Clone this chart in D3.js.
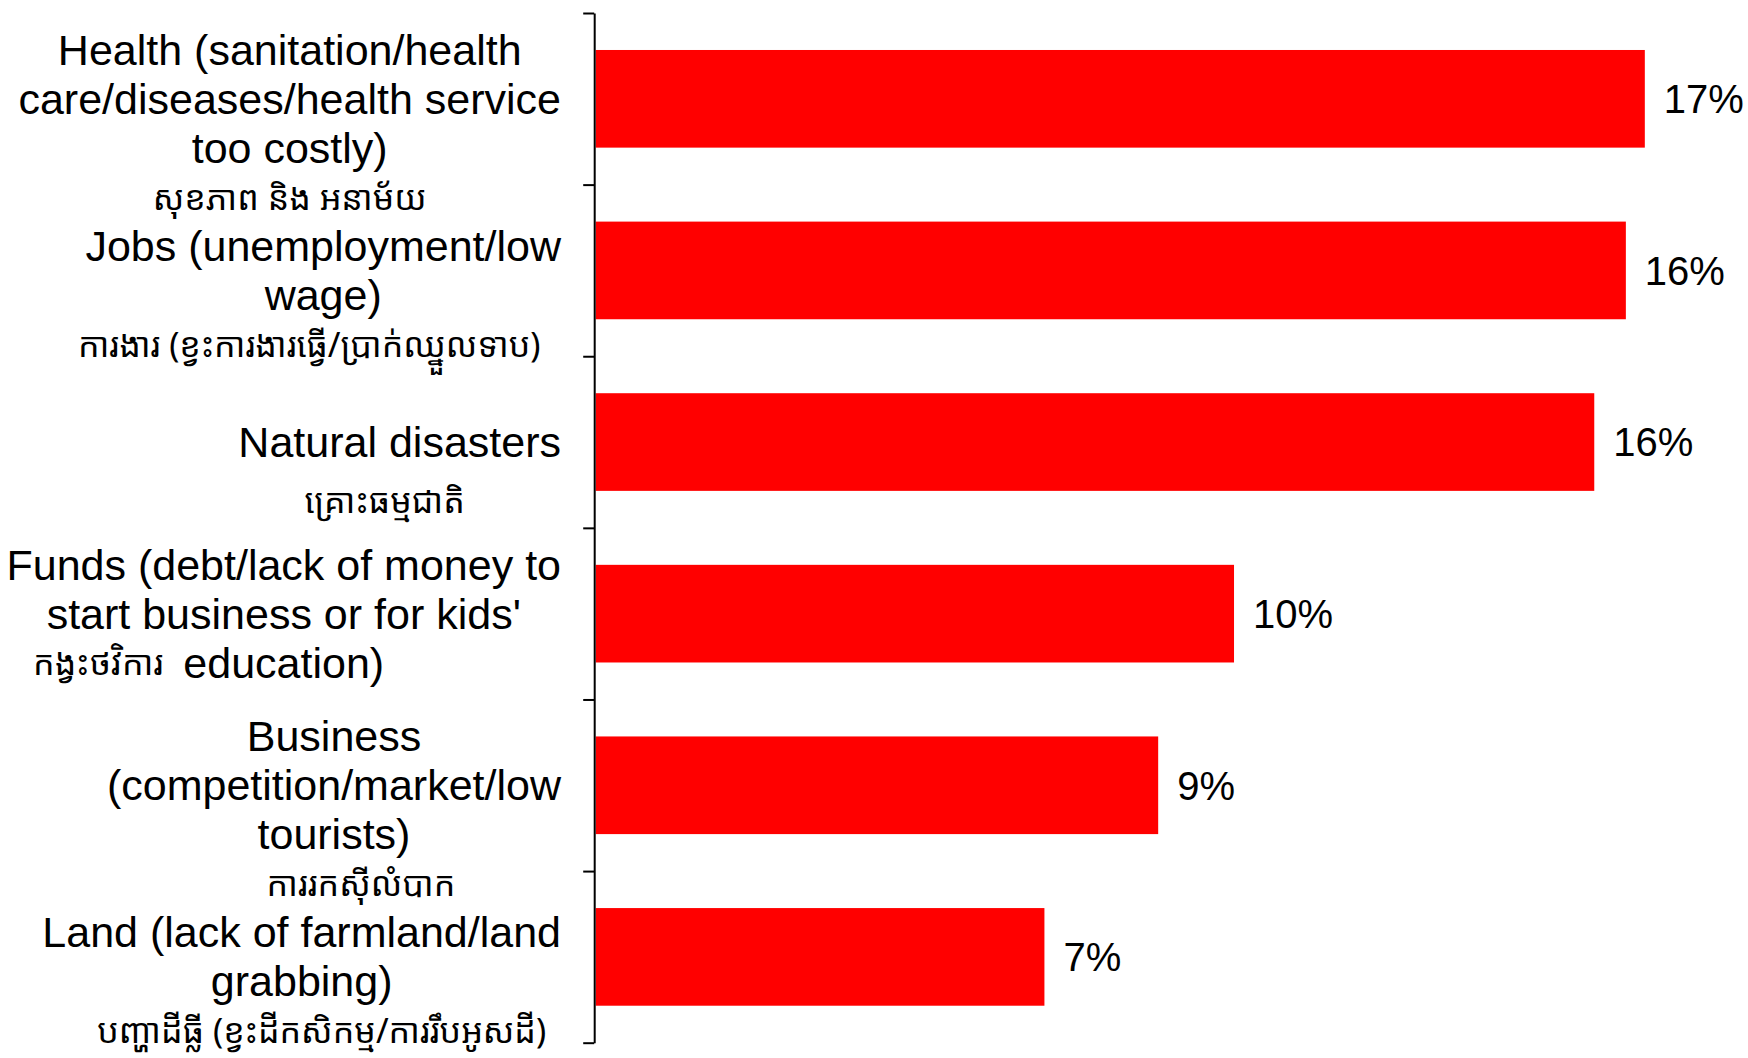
<!DOCTYPE html>
<html>
<head>
<meta charset="utf-8">
<script src="https://cdn.jsdelivr.net/npm/d3@7"></script>
<style>
  html, body { margin: 0; padding: 0; background: #ffffff; }
  svg { display: block; }
  .en { font-family: "Liberation Sans", Arial, sans-serif; font-size: 43px; fill: #000; }
  .km { font-family: "Khmer OS", "Khmer OS System", "Noto Sans Khmer", "Noto Serif Khmer", "Liberation Sans", sans-serif; font-size: 34px; fill: #000; }
  .val { font-family: "Liberation Sans", Arial, sans-serif; font-size: 40px; fill: #000; }
</style>
</head>
<body>
<svg id="chart" width="1748" height="1058"></svg>
<script>
// ---- data ----
const categories = ["Health", "Jobs", "Natural disasters", "Funds", "Business", "Land"];
const labelLinesEn = [
  ["Health (sanitation/health", "care/diseases/health service", "too costly)"],
  ["Jobs (unemployment/low", "wage)"],
  ["Natural disasters"],
  ["Funds (debt/lack of money to", "start business or for kids'", "education)"],
  ["Business", "(competition/market/low", "tourists)"],
  ["Land (lack of farmland/land", "grabbing)"]
];
const labelsKm = [
  "សុខភាព និង អនាម័យ",
  "ការងារ (ខ្វះការងារធ្វើ/ប្រាក់ឈ្នួលទាប)",
  "គ្រោះធម្មជាតិ",
  "កង្វះថវិការ",
  "ការរកស៊ីលំបាក",
  "បញ្ហាដីធ្លី (ខ្វះដីកសិកម្ម/ការរឹបអូសដី)"
];
const values = [16.6, 16.3, 15.8, 10.1, 8.9, 7.1];
const xMax = 18;

// ---- layout ----
const svg = d3.select("#chart");
const plotLeft = 595.7, plotTop = 13, plotBottom = 1042.7;
const unitPx = 63.2;
const lineH = 49;
const labelRight = 561;
const khmerInlineIdx = 3;              // Khmer label sits left of the last English line
const kmShiftX = [0, -14, -15, 0, 27, 20]; // horizontal nudges of the Khmer lines

const x = d3.scaleLinear().domain([0, xMax]).range([plotLeft, plotLeft + xMax * unitPx]);
const y = d3.scaleBand().domain(categories).range([plotTop, plotBottom])
  .paddingInner(0.431).paddingOuter(0.2155);
const yTicks = d3.scaleLinear().domain([0, categories.length]).range([plotTop, plotBottom]);

// bars
svg.append("g").selectAll("rect").data(values).join("rect")
  .attr("x", x(0))
  .attr("y", (d, i) => y(categories[i]))
  .attr("width", d => x(d) - x(0))
  .attr("height", y.bandwidth())
  .attr("fill", "#ff0000");

// value labels
svg.append("g").selectAll("text").data(values).join("text")
  .attr("class", "val")
  .attr("x", d => x(d) + 19)
  .attr("y", (d, i) => y(categories[i]) + y.bandwidth() / 2)
  .attr("dy", "0.36em")
  .text(d => Math.round(d) + "%");

// axis
const axis = d3.axisLeft(yTicks).tickValues(d3.range(categories.length + 1))
  .tickFormat("").tickSizeInner(11).tickSizeOuter(0);
const ag = svg.append("g").attr("transform", `translate(${x(0) - 1.5},0)`).call(axis);
ag.select(".domain").attr("stroke", "#000").attr("stroke-width", 2);
ag.selectAll(".tick line").attr("stroke", "#000").attr("stroke-width", 2);

// category labels
const lg = svg.append("g");
categories.forEach((c, i) => {
  const lines = labelLinesEn[i];
  const cy = y(c) + y.bandwidth() / 2;
  const g = lg.append("g");
  const texts = lines.map((t, j) => g.append("text")
    .attr("class", "en")
    .attr("text-anchor", "middle")
    .attr("y", cy + (j - (lines.length - 1) / 2) * lineH)
    .attr("dy", "0.35em")
    .text(t));
  const maxW = d3.max(texts, t => t.node().getComputedTextLength());
  const cx = labelRight - maxW / 2;
  texts.forEach(t => t.attr("x", cx));
  const lastY = cy + ((lines.length - 1) / 2) * lineH;
  if (i === khmerInlineIdx) {
    const lastW = texts[texts.length - 1].node().getComputedTextLength();
    g.append("text").attr("class", "km")
      .attr("text-anchor", "end")
      .attr("x", cx - lastW / 2 - 20)
      .attr("y", lastY)
      .attr("dy", "0.35em")
      .text(labelsKm[i]);
  } else {
    g.append("text").attr("class", "km")
      .attr("text-anchor", "middle")
      .attr("x", cx + kmShiftX[i])
      .attr("y", lastY + (lines.length === 1 ? 59 : 50))
      .attr("dy", "0.35em")
      .text(labelsKm[i]);
  }
});
</script>
</body>
</html>
